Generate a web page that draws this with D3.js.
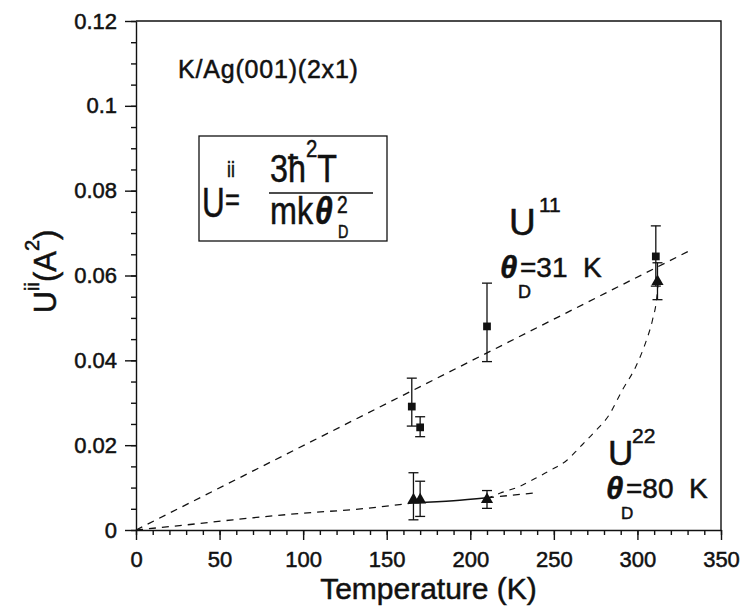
<!DOCTYPE html>
<html>
<head>
<meta charset="utf-8">
<script src="https://cdn.jsdelivr.net/npm/d3@7"></script>
<style>
  body { margin: 0; background: #fff; }
  svg { display: block; }
  text { font-family: "Liberation Sans", Arial, Helvetica, sans-serif; fill: #111; stroke: #111; stroke-width: 0.5px; }
</style>
</head>
<body>
<div id="chart"></div>
<script>
// ── Data ──────────────────────────────────────────────────────────────
const xTicks = [0, 50, 100, 150, 200, 250, 300, 350];
const yTicks = [0, 0.02, 0.04, 0.06, 0.08, 0.1, 0.12];
const yTickLabels = ["0", "0.02", "0.04", "0.06", "0.08", "0.1", "0.12"];

// U11 - squares
const u11T  = [165, 170, 210, 311];
const u11   = [0.0291, 0.0242, 0.0480, 0.0645];
const u11Lo = [0.0245, 0.0220, 0.0397, 0.0575];
const u11Hi = [0.0358, 0.0267, 0.0582, 0.0717];

// U22 - triangles
const u22T  = [166, 170, 210, 312];
const u22   = [0.0071, 0.0071, 0.0072, 0.0586];
const u22Lo = [0.0024, 0.0032, 0.0051, 0.0543];
const u22Hi = [0.0135, 0.0115, 0.0093, 0.0630];

// fit curves [T, U]
const fit11     = [[0, 0], [332, 0.0660]];
const fit22Low  = [[0, 0], [30, 0.0012], [58, 0.0024], [98, 0.0039], [138, 0.0051], [166, 0.0064]];
const fit22Mid  = [[166, 0.0064], [190, 0.0069], [210, 0.0076]];
const fit22Tail = [[210, 0.0076], [240, 0.0088]];
const fit22Rise = [[210, 0.0074], [218, 0.0087], [229, 0.0102], [239, 0.0122], [249, 0.0143],
                   [258, 0.0165], [265, 0.0193], [274, 0.0230], [283, 0.0271], [291, 0.0330],
                   [299, 0.0385], [305, 0.0443], [309, 0.0495], [311.5, 0.0545], [312.5, 0.0586]];

// ── Setup ─────────────────────────────────────────────────────────────
const width = 744;
const height = 609;

const svg = d3.select("#chart").append("svg")
    .attr("width", width)
    .attr("height", height);

const x = d3.scaleLinear().domain([0, 350]).range([136, 721]);
const y = d3.scaleLinear().domain([0, 0.12]).range([530, 21]);

// ── Axes ──────────────────────────────────────────────────────────────
svg.append("g")
    .attr("transform", `translate(0,${y(0)})`)
    .call(d3.axisBottom(x).tickValues(xTicks).tickSize(10).tickSizeOuter(0).tickPadding(11));
svg.append("g")
    .attr("transform", `translate(0,${y(0)})`)
    .call(d3.axisBottom(x).ticks(35).tickSize(5).tickFormat(""))
    .call(g => g.select(".domain").remove());

svg.append("g")
    .attr("transform", `translate(${x(0)},0)`)
    .call(d3.axisLeft(y).tickValues(yTicks).tickSize(11).tickSizeOuter(0).tickPadding(8)
        .tickFormat((d, i) => yTickLabels[i]));
svg.append("g")
    .attr("transform", `translate(${x(0)},0)`)
    .call(d3.axisLeft(y).ticks(24).tickSize(5).tickFormat(""))
    .call(g => g.select(".domain").remove());

svg.selectAll(".domain, .tick line").attr("stroke", "#111").attr("stroke-width", 1.4);
svg.selectAll(".tick text").attr("font-size", "22px");

// frame top + right
svg.append("path")
    .attr("d", `M${x(0)},${y(0.12)}H${x(350)}V${y(0)}`)
    .attr("fill", "none")
    .attr("stroke", "#111")
    .attr("stroke-width", 1.4);

// axis titles
svg.append("text")
    .attr("x", (x(0) + x(350)) / 2)
    .attr("y", 599)
    .attr("text-anchor", "middle")
    .attr("font-size", "30px")
    .text("Temperature (K)");

const yTitle = svg.append("text")
    .attr("transform", `translate(56,${(y(0) + y(0.12)) / 2 - 4}) rotate(-90)`)
    .attr("text-anchor", "middle")
    .attr("font-size", "31px");
yTitle.append("tspan").text("U");
yTitle.append("tspan").attr("dy", -17).attr("font-size", "20px").text("ii");
yTitle.append("tspan").attr("dy", 17).text("(A");
yTitle.append("tspan").attr("dy", -17).attr("font-size", "20px").text("2");
yTitle.append("tspan").attr("dy", 17).text(")");

// ── Fit lines ─────────────────────────────────────────────────────────
const line = d3.line().x(d => x(d[0])).y(d => y(d[1]));
const smooth = d3.line().x(d => x(d[0])).y(d => y(d[1])).curve(d3.curveMonotoneX);

const fits = svg.append("g").attr("fill", "none").attr("stroke", "#111").attr("stroke-width", 1.3);
fits.append("path").attr("d", line(fit11)).attr("stroke-dasharray", "7,6");
fits.append("path").attr("d", smooth(fit22Low)).attr("stroke-dasharray", "7,6");
fits.append("path").attr("d", smooth(fit22Mid));
fits.append("path").attr("d", line(fit22Tail)).attr("stroke-dasharray", "7,6");
fits.append("path").attr("d", smooth(fit22Rise)).attr("stroke-dasharray", "6,6").attr("stroke-width", 1.1);

// ── Error bars + markers ──────────────────────────────────────────────
function errorBars(ts, lo, hi) {
    const g = svg.append("g").attr("stroke", "#111").attr("stroke-width", 1.3);
    ts.forEach((t, i) => {
        const cx = x(t);
        g.append("line").attr("x1", cx).attr("x2", cx).attr("y1", y(lo[i])).attr("y2", y(hi[i]));
        g.append("line").attr("x1", cx - 5).attr("x2", cx + 5).attr("y1", y(lo[i])).attr("y2", y(lo[i]));
        g.append("line").attr("x1", cx - 5).attr("x2", cx + 5).attr("y1", y(hi[i])).attr("y2", y(hi[i]));
    });
}
errorBars(u11T, u11Lo, u11Hi);
errorBars(u22T, u22Lo, u22Hi);

svg.append("g").selectAll("path")
    .data(u11T.map((t, i) => [t, u11[i]]))
    .join("path")
    .attr("transform", d => `translate(${x(d[0])},${y(d[1])})`)
    .attr("d", d3.symbol(d3.symbolSquare, 60))
    .attr("fill", "#111");

svg.append("g").selectAll("path")
    .data(u22T.map((t, i) => [t, u22[i]]))
    .join("path")
    .attr("transform", d => `translate(${x(d[0])},${y(d[1])})`)
    .attr("d", d3.symbol(d3.symbolTriangle, 64))
    .attr("fill", "#111");

// ── Annotations ───────────────────────────────────────────────────────
svg.append("text")
    .attr("x", 178).attr("y", 78)
    .attr("font-size", "25px")
    .attr("letter-spacing", "0.8px")
    .text("K/Ag(001)(2x1)");

// formula box (glyphs in the scan are tall and narrow)
svg.append("rect")
    .attr("x", 199).attr("y", 136)
    .attr("width", 188).attr("height", 105)
    .attr("fill", "none").attr("stroke", "#111").attr("stroke-width", 1.3);

function condensed(px, py, size, sx = 0.8) {
    return svg.append("g")
        .attr("transform", `translate(${px},${py}) scale(${sx},1)`)
        .append("text")
        .attr("font-size", size + "px");
}

condensed(202, 217, 42, 0.75).text("U");
condensed(227, 177, 22).text("ii");
condensed(225, 210, 32).text("=");

const num = condensed(270, 182, 38, 0.85);
num.append("tspan").text("3ħ");
num.append("tspan").attr("dy", -25).attr("font-size", "24px").text("2");
num.append("tspan").attr("dy", 25).text("T");

svg.append("line")
    .attr("x1", 269).attr("x2", 373).attr("y1", 193).attr("y2", 193)
    .attr("stroke", "#111").attr("stroke-width", 1.4);

const den = condensed(270, 224, 38, 0.85);
den.append("tspan").text("mk");
den.append("tspan").attr("font-style", "italic").attr("font-weight", "bold").attr("dx", 2).text("θ");
condensed(337, 213, 24).text("2");
condensed(338, 238, 18).text("D");

// U11 label
svg.append("text").attr("x", 509).attr("y", 235).attr("font-size", "37px").text("U");
svg.append("text").attr("x", 539).attr("y", 212).attr("font-size", "21px").text("11");
svg.append("text").attr("x", 500).attr("y", 278).attr("font-size", "31px")
    .attr("font-style", "italic").attr("font-weight", "bold").text("θ");
svg.append("text").attr("x", 518).attr("y", 298).attr("font-size", "18px").text("D");
svg.append("text").attr("x", 520).attr("y", 277).attr("font-size", "28px").text("=31\u00A0\u00A0K");

// U22 label
svg.append("text").attr("x", 608).attr("y", 465).attr("font-size", "35px").text("U");
svg.append("text").attr("x", 632).attr("y", 443).attr("font-size", "21px").text("22");
svg.append("text").attr("x", 606).attr("y", 499).attr("font-size", "31px")
    .attr("font-style", "italic").attr("font-weight", "bold").text("θ");
svg.append("text").attr("x", 621).attr("y", 519).attr("font-size", "17px").text("D");
svg.append("text").attr("x", 626).attr("y", 498).attr("font-size", "28px").text("=80\u00A0\u00A0K");
</script>
</body>
</html>
